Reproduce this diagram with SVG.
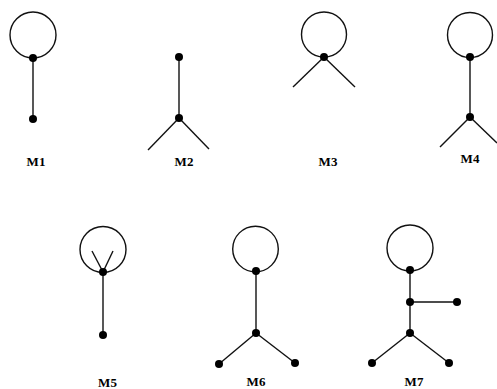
<svg xmlns="http://www.w3.org/2000/svg" width="497" height="389" viewBox="0 0 497 389">
<style>
.loop{fill:none;stroke:#111;stroke-width:1.4}
.e{stroke:#111;stroke-width:1.4;fill:none}
.n{fill:#000}
.lbl{font-family:"Liberation Serif",serif;font-weight:bold;font-size:13px;text-anchor:middle;fill:#000}
</style>
<rect width="497" height="389" fill="#fff"/>
<g id="connectors">
<line class="e" x1="33" y1="58" x2="33" y2="119"/>
<line class="e" x1="179" y1="57" x2="179" y2="118"/>
<line class="e" x1="179" y1="118" x2="148" y2="150"/>
<line class="e" x1="179" y1="118" x2="209" y2="149"/>
<line class="e" x1="324" y1="57" x2="293" y2="87"/>
<line class="e" x1="324" y1="57" x2="355" y2="87"/>
<line class="e" x1="470" y1="57" x2="470" y2="117"/>
<line class="e" x1="470" y1="117" x2="440" y2="147"/>
<line class="e" x1="470" y1="117" x2="497" y2="143"/>
<line class="e" x1="103" y1="272" x2="92" y2="251"/>
<line class="e" x1="103" y1="272" x2="113" y2="251"/>
<line class="e" x1="103" y1="272" x2="103" y2="335"/>
<line class="e" x1="256" y1="271" x2="256" y2="333"/>
<line class="e" x1="256" y1="333" x2="219" y2="364"/>
<line class="e" x1="256" y1="333" x2="295" y2="363"/>
<line class="e" x1="410" y1="270" x2="410" y2="333"/>
<line class="e" x1="410" y1="302" x2="457" y2="302"/>
<line class="e" x1="410" y1="333" x2="372" y2="363"/>
<line class="e" x1="410" y1="333" x2="449" y2="363"/>
</g>
<g id="M1">
<circle class="loop" cx="33" cy="35" r="23"/>
<circle class="n" cx="33" cy="58" r="4"/>
<circle class="n" cx="33" cy="119" r="4"/>
<text class="lbl" x="36" y="166">M1</text>
</g>
<g id="M2">
<circle class="n" cx="179" cy="57" r="4"/>
<circle class="n" cx="179" cy="118" r="4"/>
<text class="lbl" x="184" y="166">M2</text>
</g>
<g id="M3">
<circle class="loop" cx="324" cy="34.5" r="22.5"/>
<circle class="n" cx="324" cy="57" r="4"/>
<text class="lbl" x="328" y="166">M3</text>
</g>
<g id="M4">
<circle class="loop" cx="470" cy="35" r="22.5"/>
<circle class="n" cx="470" cy="57" r="4"/>
<circle class="n" cx="470" cy="117" r="4"/>
<text class="lbl" x="470" y="163">M4</text>
</g>
<g id="M5">
<circle class="loop" cx="103" cy="249.5" r="23"/>
<circle class="n" cx="103" cy="272" r="4"/>
<circle class="n" cx="103" cy="335" r="4"/>
<text class="lbl" x="107.5" y="387">M5</text>
</g>
<g id="M6">
<circle class="loop" cx="255.5" cy="249" r="22.8"/>
<circle class="n" cx="256" cy="271" r="4"/>
<circle class="n" cx="256" cy="333" r="4"/>
<circle class="n" cx="219" cy="364" r="4"/>
<circle class="n" cx="295" cy="363" r="4"/>
<text class="lbl" x="256" y="386">M6</text>
</g>
<g id="M7">
<circle class="loop" cx="410" cy="248" r="23"/>
<circle class="n" cx="410" cy="270" r="4"/>
<circle class="n" cx="410" cy="302" r="4"/>
<circle class="n" cx="457" cy="302" r="4"/>
<circle class="n" cx="410" cy="333" r="4"/>
<circle class="n" cx="372" cy="363" r="4"/>
<circle class="n" cx="449" cy="363" r="4"/>
<text class="lbl" x="414" y="386">M7</text>
</g>
</svg>
